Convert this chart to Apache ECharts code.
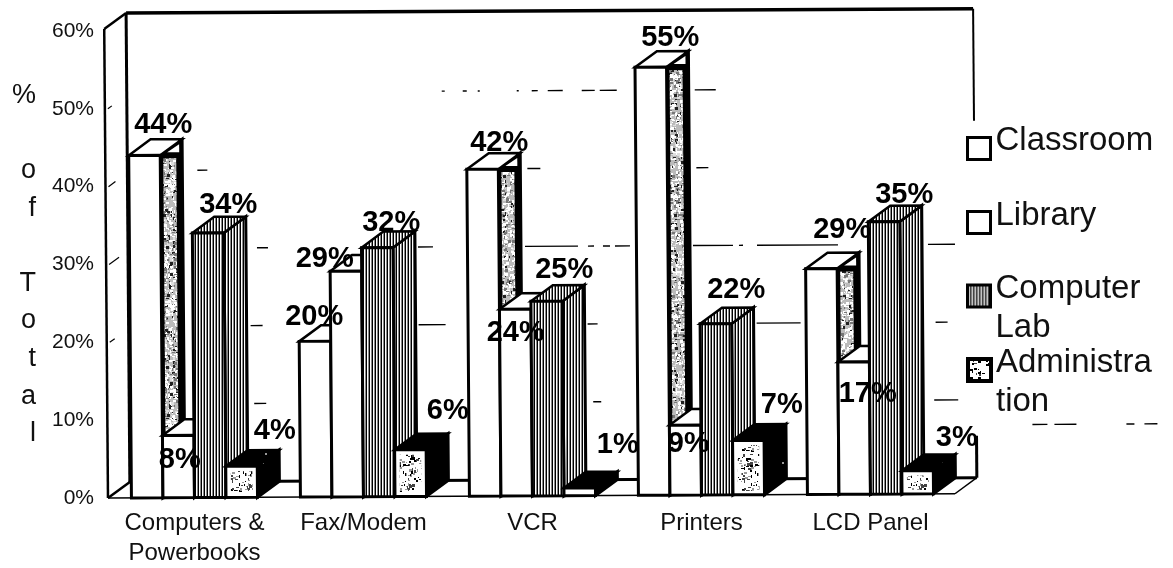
<!DOCTYPE html>
<html><head><meta charset="utf-8">
<style>html,body{margin:0;padding:0;background:#fff}#c{width:1173px;height:568px}</style>
<script src="https://cdn.jsdelivr.net/npm/echarts@6/dist/echarts.min.js"></script>
</head><body><div id="c"></div>
<script>
var categories = ['Computers &\nPowerbooks','Fax/Modem','VCR','Printers','LCD Panel'];
var seriesNames = ['Classroom','Library','Computer Lab','Administration'];
var classroom = [44,20,42,55,29];
var library = [8,29,24,9,17];
var computerLab = [34,32,25,22,35];
var administration = [4,6,1,7,3];
// where each value label sits relative to the top of its bar
var classroomLabelShift = [[16,-33],[-2,-27],[14,-29],[16,-32],[19,-42]];
var libraryLabelShift = [[1,22],[-23,-15],[-1,21],[3,16],[13,29]];
var computerLabLabelShift = [[18,-31],[12,-28],[16,-34],[19,-37],[18,-30]];
var administrationLabelShift = [[33,-38],[37,-42],[38,-46],[33,-38],[39,-36]];
var yTicks = [0,10,20,30,40,50,60];
// broken-up back-wall gridline fragments: [value, from px, to px]
var wallFragments = [
 [50,445,448],[50,466,470],[50,481,483],[50,520,522],[50,535,541],[50,551,566],[50,585,598],[50,603,620],[50,698,719],
 [40,200,210],[40,530,543],[40,699,711],
 [30,259,270],[30,420,435],[30,527,580],[30,590,596],[30,605,612],[30,617,632],[30,695,735],[30,741,745],[30,759,840],[30,930,957],
 [20,252,264],[20,420,447],[20,589,599],[20,758,802],[20,937,949],
 [10,255,267],[10,594,602],[10,935,959],
 [6.8,1033,1048],[6.8,1055,1077],[6.8,1127,1135],[6.8,1145,1158]
];
// short marks left on the side wall: [value, length px]
var sideWallMarks = [[50,4],[40,7],[30,10],[20,5]];

var chart = echarts.init(document.getElementById('c'));
var DX = 22, DY = -16;

function P(x, y){ return [x + (y-501)*0.008, y - (x-108)*0.005]; }
function poly(pts, fill, lw, z2){
  return {type:'polygon', z2:z2, shape:{points:pts.map(function(p){return P(p[0],p[1]);})},
    style:{fill:fill, stroke:lw?'#000':null, lineWidth:lw||0, lineJoin:'miter'}};
}
function seg(a,b,lw){
  var A=P(a[0],a[1]),B=P(b[0],b[1]);
  return {type:'line',shape:{x1:A[0],y1:A[1],x2:B[0],y2:B[1]},style:{stroke:'#000',lineWidth:lw===undefined?3:lw,fill:null}};
}
function tex(w,h,paint){
  var c=document.createElement('canvas');c.width=w;c.height=h;
  paint(c.getContext('2d'),w,h);
  return {image:c,repeat:'repeat'};
}
function mottle(g,w,h,bg,cols,count,seed,size){
  g.fillStyle=bg;g.fillRect(0,0,w,h);
  var s=seed;
  function n(){s=(s*1103515245+12345)&0x7fffffff;return s>>8;}
  for(var i=0;i<count;i++){
    g.fillStyle=cols[n()%cols.length];
    g.fillRect(n()%w,n()%h,1+n()%size,1+n()%size);
  }
}
var stripes = tex(3,4,function(g){
  g.fillStyle='#000';g.fillRect(0,0,1,4);
  g.fillStyle='#fff';g.fillRect(1,0,1,4);
  g.fillStyle='#8a8a8a';g.fillRect(2,0,1,4);
});
var mottled = tex(60,120,function(g,w,h){mottle(g,w,h,'#bbb',['#fff','#fff','#fff','#222','#777','#ddd'],1500,7,3);});
var adminSpeck = tex(32,40,function(g,w,h){mottle(g,w,h,'#fff',['#000','#444','#999'],110,11,3);});
var adminDark = tex(40,40,function(g,w,h){mottle(g,w,h,'#000',['#000','#000','#000','#000','#999'],8,3,2);});

function barRender(k){
  return function(params, api){
    var cat=api.value(0), v=api.value(1);
    var centre=api.coord([cat,0]), topPt=api.coord([cat,v]);
    var band=api.size([1,0])[0], w=band*0.1865;
    var x0=centre[0]-2*w+k*w, x1=x0+w, yb=centre[1], yt=topPt[1];
    var b=10*k, kids=[];
    var sideFill = k===0?'#000':k===1?'#fff':k===2?stripes:adminDark;
    var topFill = k<2?'#fff':k===2?stripes:adminDark;
    var frontFill = k<2?'#fff':k===2?stripes:'#fff';
    kids.push(poly([[x1,yb],[x1+DX,yb+DY],[x1+DX,yt+DY],[x1,yt]],sideFill,3,b+1));
    if(k===0){
      kids.push(poly([[x1+3,yb],[x1+DX-6,yb],[x1+DX-6,yt+3],[x1+3,yt+3]],mottled,0,b+2));
      kids.push(poly([[x1+7,yt-3],[x1+DX-3,yt+DY+5],[x1+DX-3,yt-3]],'#fff',0,b+3));
    }
    kids.push(poly([[x0,yt],[x0+DX,yt+DY],[x1+DX,yt+DY],[x1,yt]],topFill,2.5,b+4));
    kids.push(poly([[x0,yb],[x1,yb],[x1,yt],[x0,yt]],frontFill,3,b+5));
    if(k===3 && yb-yt>14){
      kids.push(poly([[x0+5,yb-4],[x1-5,yb-4],[x1-5,yt+5],[x0+5,yt+5]],adminSpeck,0,b+6));
    }
    var labY=P(x0+w/2,yt)[1]+api.value(3)+3;
    kids.push({type:'text',z2:200,x:x0+w/2+api.value(2),y:labY,style:{text:v+'%',x:0,y:0,align:'center',verticalAlign:'middle',
      font:'bold 29px "Liberation Sans"',fill:'#000'}});
    return {type:'group',children:kids};
  };
}
function rows(vals,shift){
  return vals.map(function(v,i){return [i,v,shift[i][0],shift[i][1]];});
}
function frameRender(params, api){
  var cs=params.coordSys, L=cs.x-2, R=cs.x+cs.width, yb=api.coord([0,0])[1], yt=api.coord([0,60])[1]-2, kids=[];
  kids.push(seg([L,yb],[L,yt],2.5));
  kids.push(seg([L,yt],[L+DX,yt+DY],2.5));
  kids.push(seg([L+DX,yt+DY],[L+DX,yb+DY],3));
  kids.push(seg([L,yb],[L+DX,yb+DY],2.5));
  kids.push(seg([L+DX,yt+DY],[R+DX,yt+DY],3.5));
  kids.push(seg([L+DX,yb+DY],[R+DX,yb+DY],3));
  kids.push(seg([L,yb],[R,yb],1.5));
  kids.push(seg([R,yb],[R+DX,yb+DY],1.5));
  kids.push(seg([R+DX,yb+DY],[R+DX,yb+DY-42],3));
  kids.push(seg([R+DX,yt+DY],[R+DX,yt+DY+112],2));
  wallFragments.forEach(function(s){
    var y=api.coord([0,s[0]])[1]+DY;
    kids.push(seg([s[1],y],[s[2],y],1.4));
  });
  sideWallMarks.forEach(function(s){
    var y=api.coord([0,s[0]])[1];
    kids.push(seg([L+3,y],[L+3+s[1],y+s[1]*DY/DX],1.2));
  });
  return {type:'group',children:kids};
}
var legendText = {
  'Classroom':'{t|Classroom}\n{a| }',
  'Library':'{t|Library}\n{b| }',
  'Computer Lab':'{c| }\n{t|Computer}\n{t|Lab}',
  'Administration':'{c| }\n{t|Administra}\n{t|tion}'
};
var legendTops = [124,199,252,326];
var legendIcons = [
 {color:'#fff',borderColor:'#000',borderWidth:3},
 {color:'#fff',borderColor:'#000',borderWidth:3},
 {color:stripes,borderColor:'#000',borderWidth:3},
 {color:tex(24,24,function(g,w,h){mottle(g,w,h,'#fff',['#000','#444'],30,5,3);}),borderColor:'#000',borderWidth:4}
];
var series = [{type:'custom',name:'frame',z:1,silent:true,renderItem:frameRender,data:[[0]],clip:false,encode:{x:0}}];
[classroom,library,computerLab,administration].forEach(function(vals,k){
  var shift=[classroomLabelShift,libraryLabelShift,computerLabLabelShift,administrationLabelShift][k];
  series.push({type:'custom',name:seriesNames[k],z:2,renderItem:barRender(k),clip:false,
    encode:{x:0,y:1},data:rows(vals,shift),itemStyle:legendIcons[k]});
});
chart.setOption({
  animation:false,
  backgroundColor:'#fff',
  tooltip:{show:false},
  grid:{left:110,top:31,width:845,height:470},
  xAxis:{type:'category',data:categories,
    axisLine:{show:false},axisTick:{show:false},splitLine:{show:false},
    axisLabel:{interval:0,margin:10,fontFamily:'Liberation Sans',fontSize:24,lineHeight:30,color:'#111'}},
  yAxis:{type:'value',min:0,max:60,interval:10,
    name:'%\n\no\nf\n\nT\no\nt\na\nl',nameLocation:'middle',nameRotate:0,nameGap:74,
    nameTextStyle:{fontFamily:'Liberation Sans',fontSize:27,lineHeight:37.6,color:'#111',padding:[0,0,12,0]},
    axisLine:{show:false},axisTick:{show:false},splitLine:{show:false},
    axisLabel:{margin:16,fontFamily:'Liberation Sans',fontSize:21,color:'#111',padding:[0,0,8,0],
      formatter:function(v){return v+'%';}}},
  legend:seriesNames.map(function(n,i){return {
    show:true,data:[{name:n,icon:'rect',itemStyle:legendIcons[i]}],left:966,top:legendTops[i],
    orient:'vertical',itemWidth:23,itemHeight:22,itemGap:0,padding:0,selectedMode:false,
    formatter:function(nm){return legendText[nm];},
    textStyle:{fontFamily:'Liberation Sans',fontSize:33,color:'#111',
      rich:{t:{fontFamily:'Liberation Sans',fontSize:33,lineHeight:39,color:'#111'},
            a:{fontSize:10,lineHeight:16},b:{fontSize:10,lineHeight:14},c:{fontSize:10,lineHeight:24}}}};}),
  series:series
});
</script></body></html>
